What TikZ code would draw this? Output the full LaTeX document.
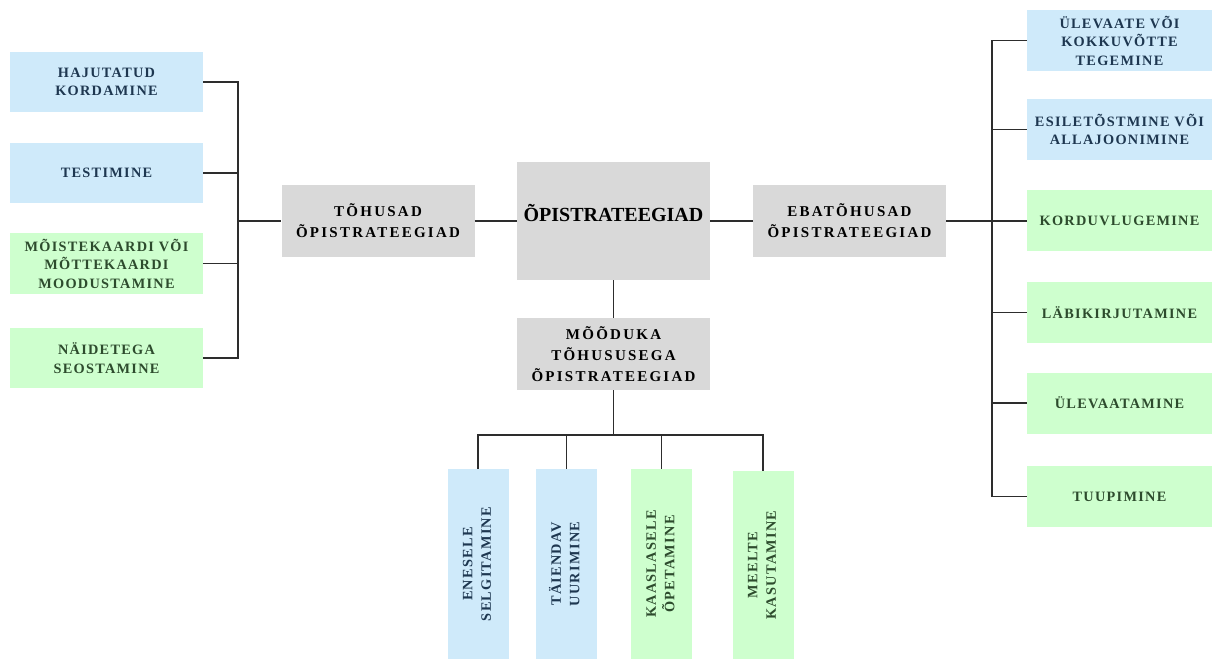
\documentclass[tikz,border=0pt]{standalone}
\usepackage{fontspec}
\setmainfont{Liberation Serif}
\newfontfamily\capsfont[LetterSpace=9]{Liberation Serif}
\newfontfamily\widecapsfont[LetterSpace=15]{Liberation Serif}
\definecolor{fillblue}{RGB}{207,234,250}
\definecolor{fillgreen}{RGB}{206,255,206}
\definecolor{fillgrey}{RGB}{217,217,217}
\definecolor{inkblue}{RGB}{30,55,80}
\definecolor{inkgreen}{RGB}{45,75,45}
\definecolor{wiregrey}{RGB}{45,45,45}
\begin{document}
\begin{tikzpicture}[x=1pt,y=1pt,
    box/.style={inner sep=0pt, align=center, font=\capsfont\bfseries\fontsize{14.3}{18.5}\selectfont},
    bluebox/.style={box, fill=fillblue, text=inkblue},
    greenbox/.style={box, fill=fillgreen, text=inkgreen},
    greybox/.style={box, fill=fillgrey, text=black, font=\widecapsfont\bfseries\fontsize{15}{21}\selectfont},
    sidebox/.style={minimum width=193, minimum height=60},
    rightbox/.style={minimum width=185, minimum height=61},
    lowbox/.style={minimum width=61, minimum height=190},
    wire/.style={draw=wiregrey, line width=1.3pt}]
    \useasboundingbox (0,0) rectangle (1212,-660);

    \node[bluebox, sidebox] (hajut) at (106.5,-82) {HAJUTATUD\\KORDAMINE};
    \node[bluebox, sidebox] (testi) at (106.5,-173) {TESTIMINE};
    \node[greenbox, sidebox, minimum height=61] (moist) at (106.5,-263.5) {MÕISTEKAARDI VÕI\\MÕTTEKAARDI\\MOODUSTAMINE};
    \node[greenbox, sidebox] (naide) at (106.5,-358) {NÄIDETEGA\\SEOSTAMINE};

    \node[greybox, minimum width=193, minimum height=72] (tohus) at (378,-221) {TÕHUSAD\\ÕPISTRATEEGIAD};
    \node[greybox, minimum width=193, minimum height=118, text height=14, text depth=13,
        font=\bfseries\fontsize{20}{22}\selectfont] (core) at (613.5,-221) {ÕPISTRATEEGIAD};
    \node[greybox, minimum width=193, minimum height=72] (ebat) at (849.5,-221) {EBATÕHUSAD\\ÕPISTRATEEGIAD};
    \node[greybox, minimum width=193, minimum height=72] (mood) at (613.5,-354) {MÕÕDUKA\\TÕHUSUSEGA\\ÕPISTRATEEGIAD};

    \node[bluebox, rightbox] (uleva) at (1119.5,-40.5) {ÜLEVAATE VÕI\\KOKKUVÕTTE\\TEGEMINE};
    \node[bluebox, rightbox] (esile) at (1119.5,-129.5) {ESILETÕSTMINE VÕI\\ALLAJOONIMINE};
    \node[greenbox, rightbox] (kordu) at (1119.5,-221) {KORDUVLUGEMINE};
    \node[greenbox, rightbox] (labik) at (1119.5,-312.5) {LÄBIKIRJUTAMINE};
    \node[greenbox, rightbox] (ulevt) at (1119.5,-403) {ÜLEVAATAMINE};
    \node[greenbox, rightbox] (tuupi) at (1119.5,-496.5) {TUUPIMINE};

    \node[bluebox, lowbox] (enese) at (478,-564) {\rotatebox{90}{\begin{tabular}{@{}c@{}}ENESELE\\SELGITAMINE\end{tabular}}};
    \node[bluebox, lowbox] (taien) at (566.5,-564) {\rotatebox{90}{\begin{tabular}{@{}c@{}}TÄIENDAV\\UURIMINE\end{tabular}}};
    \node[greenbox, lowbox] (kaasl) at (661.5,-564) {\rotatebox{90}{\begin{tabular}{@{}c@{}}KAASLASELE\\ÕPETAMINE\end{tabular}}};
    \node[greenbox, lowbox, minimum height=188] (meelt) at (763,-565) {\rotatebox{90}{\begin{tabular}{@{}c@{}}MEELTE\\KASUTAMINE\end{tabular}}};

    \coordinate (lbus) at (238,-221);
    \coordinate (rbus) at (992,-221);
    \coordinate (bbus) at (613.5,-435);

    \draw[wire] (hajut.east) -| (lbus) |- (naide.east);
    \draw[wire] (testi.east) -- (testi.east -| lbus);
    \draw[wire] (moist.east) -- (moist.east -| lbus);
    \draw[wire] (lbus) -- (tohus.west);
    \draw[wire] (tohus.east) -- (core.west);
    \draw[wire] (core.east) -- (ebat.west);
    \draw[wire] (ebat.east) -- (kordu.west);
    \draw[wire] (uleva.west) -| (rbus) |- (tuupi.west);
    \draw[wire] (esile.west) -- (esile.west -| rbus);
    \draw[wire] (labik.west) -- (labik.west -| rbus);
    \draw[wire] (ulevt.west) -- (ulevt.west -| rbus);
    \draw[wire] (core.south) -- (mood.north);
    \draw[wire] (mood.south) -- (bbus);
    \draw[wire] (enese.north) |- (bbus) -| (meelt.north);
    \draw[wire] (taien.north) -- (taien.north |- bbus);
    \draw[wire] (kaasl.north) -- (kaasl.north |- bbus);
\end{tikzpicture}
\end{document}
